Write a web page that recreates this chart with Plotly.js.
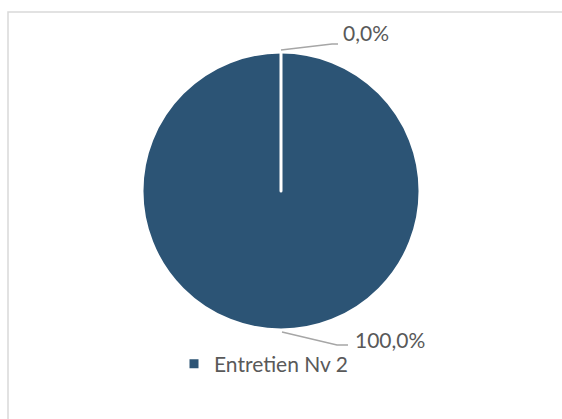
<!DOCTYPE html>
<html>
<head>
<meta charset="utf-8">
<script src="https://cdn.plot.ly/plotly-3.0.1.min.js"></script>
<style>html,body{margin:0;padding:0;background:#fff;}#chart{width:562px;height:419px;}</style>
</head>
<body>
<div id="chart"></div>
<script>
const categories = ["Entretien Nv 2", "Autre"];
const values = [100, 0];
const legendLabels = ["Entretien Nv 2"];
const sliceColors = ["#2C5475", "#2C5475"];

const W = 562, H = 419;
const px = (x, y) => [x / W, 1 - y / H];
const FONT = "Lato, 'Open Sans', sans-serif";
const GREY = "#595959";

const total = values.reduce((a, b) => a + b, 0);
const pctText = values.map(v => (v / total * 100).toFixed(1).replace(".", ",") + "%");

const pie = {
  type: "pie",
  labels: categories,
  values: values,
  sort: false,
  direction: "clockwise",
  rotation: 0,
  marker: {colors: sliceColors, line: {color: "#ffffff", width: 3}},
  textinfo: "none",
  textposition: "none",
  hoverinfo: "label+percent",
  showlegend: false,
  domain: {x: [0.2527, 0.7473], y: [0.2124, 0.8759]}
};

const legendTrace = {
  type: "scatter",
  mode: "markers",
  x: [null], y: [null],
  name: legendLabels[0],
  marker: {symbol: "square", color: sliceColors[0], size: 9},
  showlegend: true,
  hoverinfo: "skip"
};

// label anchors (layout positions) for the two slices
const labelPos = [[353, 339], [341, 33]];
const leaderPaths = [
  [[282, 332], [337, 345], [348, 345]],
  [[281, 50], [332, 44], [338, 44]]
];

const annotations = pctText.map((t, i) => {
  const p = px(labelPos[i][0], labelPos[i][1]);
  return {
    xref: "paper", yref: "paper", x: p[0], y: p[1],
    xanchor: "left", yanchor: "middle", showarrow: false,
    text: t, font: {family: FONT, size: 21, color: GREY}
  };
});

const shapes = [{
  type: "rect", xref: "paper", yref: "paper",
  x0: 8 / W, x1: 1.02, y0: -0.02, y1: 1 - 12 / H,
  line: {color: "#D9D9D9", width: 1.5}, fillcolor: "rgba(0,0,0,0)"
}].concat(leaderPaths.map(pts => ({
  type: "path", xref: "paper", yref: "paper",
  path: pts.map((q, k) => { const p = px(q[0], q[1]); return (k ? "L" : "M") + p[0] + "," + p[1]; }).join(" "),
  line: {color: "#A6A6A6", width: 1.5}
})));

const layout = {
  width: W, height: H,
  margin: {l: 0, r: 0, t: 0, b: 0},
  paper_bgcolor: "#ffffff",
  plot_bgcolor: "#ffffff",
  xaxis: {visible: false, range: [0, 1]},
  yaxis: {visible: false, range: [0, 1]},
  showlegend: true,
  legend: {
    orientation: "h",
    x: 174 / W, xanchor: "left",
    y: 1 - 364 / H, yanchor: "middle",
    font: {family: FONT, size: 21, color: GREY},
    bgcolor: "rgba(0,0,0,0)"
  },
  annotations: annotations,
  shapes: shapes
};

Plotly.newPlot("chart", [pie, legendTrace], layout, {displayModeBar: false, staticPlot: true});
</script>
</body>
</html>
